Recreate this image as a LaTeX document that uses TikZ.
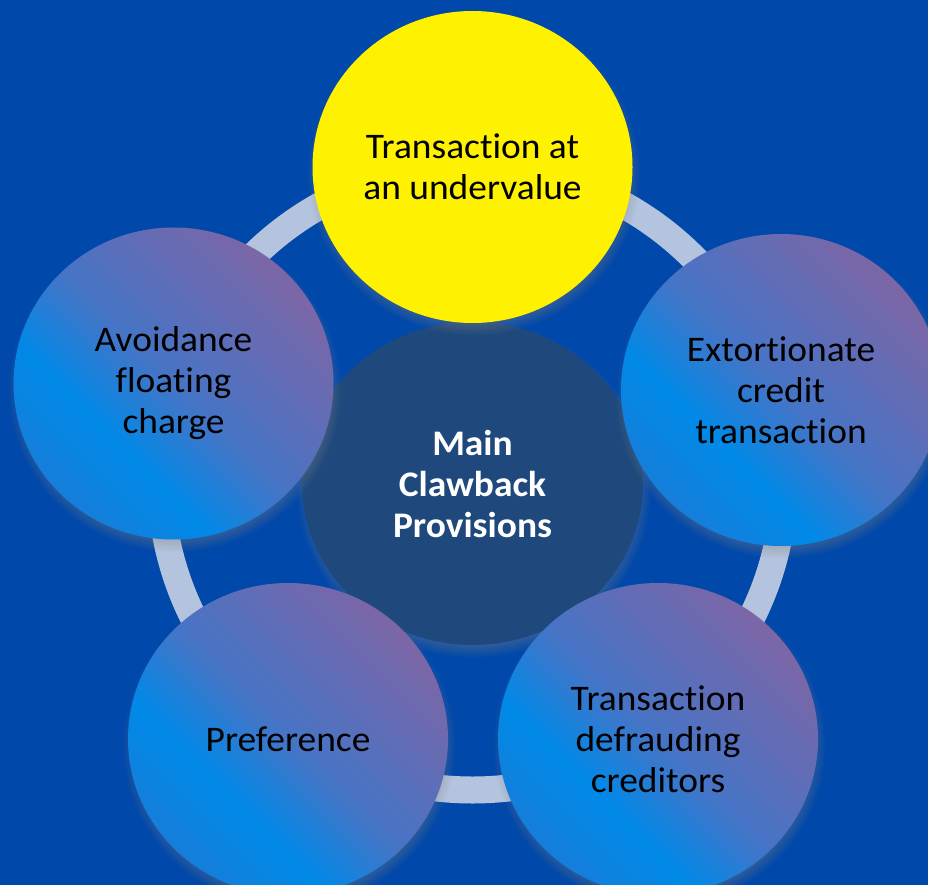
\documentclass[tikz,border=0pt]{standalone}
\usepackage{fontspec}
\setmainfont{Carlito}[Ligatures=NoCommon,FakeStretch=1.04]
\usetikzlibrary{shapes.geometric,shadows,fadings}

\definecolor{slidebg}{RGB}{0,72,170}
\definecolor{ringgrey}{RGB}{180,196,222}
\definecolor{hubblue}{RGB}{31,73,125}
\definecolor{petalpurple}{RGB}{124,102,166}
\definecolor{petalmid}{RGB}{70,116,198}
\definecolor{petalblue}{RGB}{0,137,231}
\definecolor{petaledge}{RGB}{22,126,218}

% blue at the lower left, purple at the upper right
\pgfdeclarehorizontalshading{petalshade}{100bp}{color(0bp)=(petaledge); color(25bp)=(petaledge);
  color(37bp)=(petalblue); color(50bp)=(petalmid); color(75bp)=(petalpurple); color(100bp)=(petalpurple)}

\begin{document}
\begin{tikzpicture}[x=1pt,y=-1pt,
    blob/.style={ellipse,inner sep=0pt,align=center,font=\fontsize{36}{41}\selectfont,
      circular drop shadow={shadow xshift=1pt,shadow yshift=-6pt,shadow scale=1.04,opacity=.65}},
    petal/.style={blob,minimum width=320pt,minimum height=312pt,shade,shading=petalshade,shading angle=45},
    hub/.style={blob,minimum width=341pt,minimum height=323pt,fill=hubblue,text=white,
      font=\fontsize{36}{41}\selectfont\bfseries}]
  \path[use as bounding box,fill=slidebg] (0,0) rectangle (928,885);
  \draw[ringgrey,line width=27pt] (472.5,478) circle (312pt);
  \node[hub] (main) at (472.5,483.5) {Main\\Clawback\\Provisions};
  \node[blob,minimum width=320pt,minimum height=312pt,fill=yellow] (undervalue) at (472.5,167)
    {Transaction at\\an undervalue};
  \foreach \x/\y/\name/\txt in {781/390/extortion/{Extortionate\\credit\\transaction},
      658/739/defrauding/{Transaction\\defrauding\\creditors},
      288/739/preference/{Preference},
      173.5/383.5/floating/{Avoidance\\floating\\charge}}
    \node[petal] (\name) at (\x,\y) {\txt};
\end{tikzpicture}
\end{document}
